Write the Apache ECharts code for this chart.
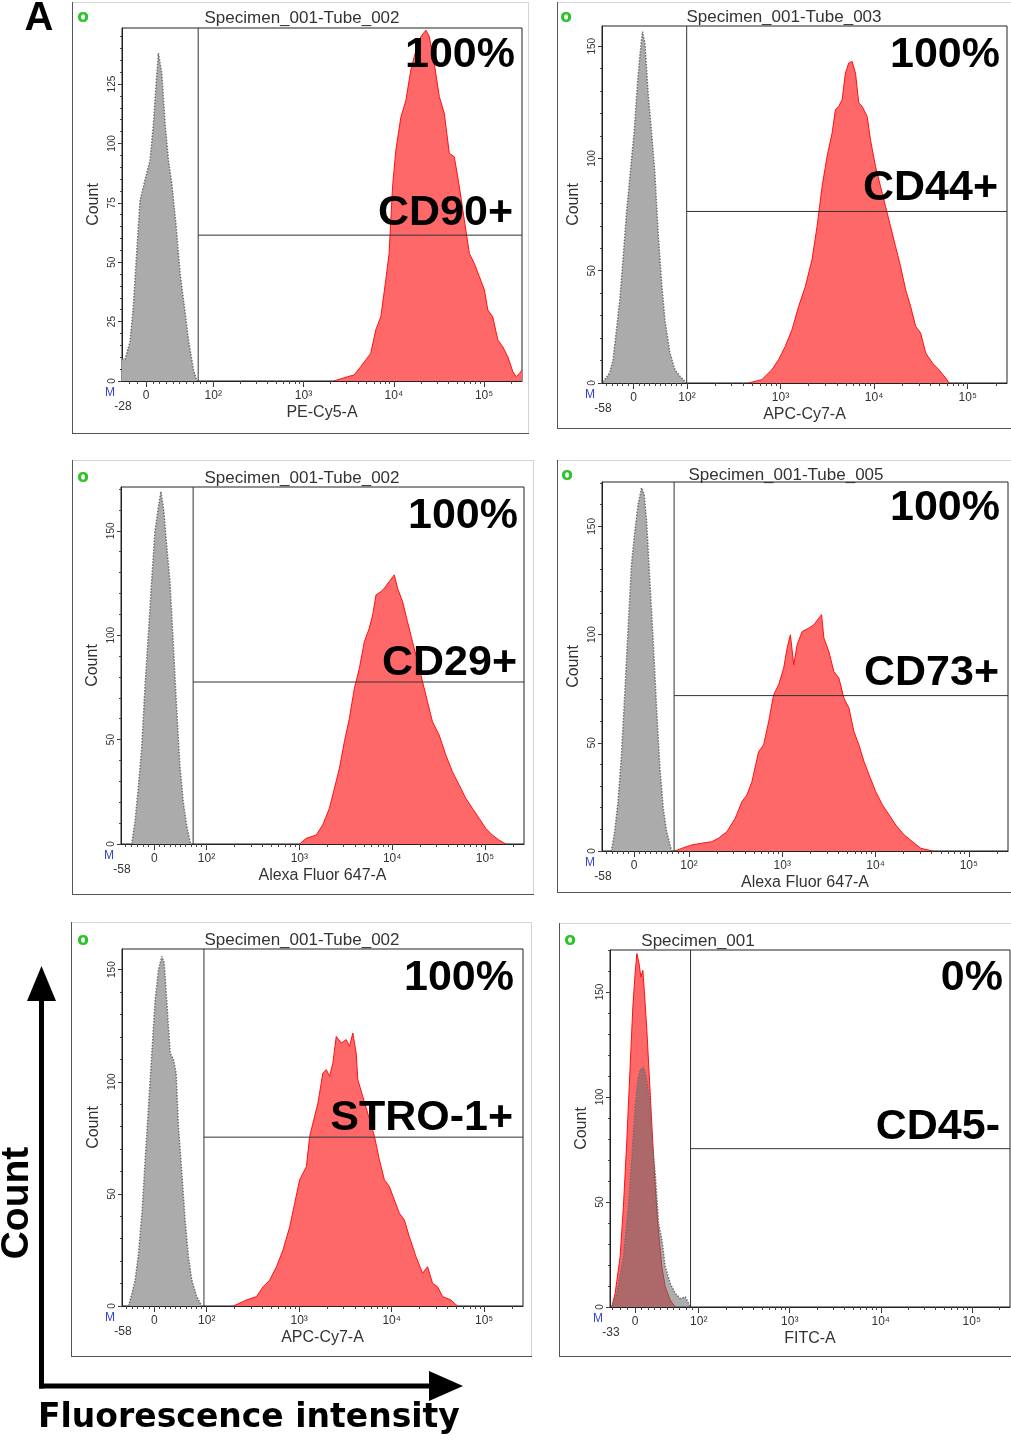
<!DOCTYPE html>
<html><head><meta charset="utf-8">
<script src="https://cdn.jsdelivr.net/npm/echarts@6/dist/echarts.min.js"></script>
<style>html,body{margin:0;padding:0;background:#fff}#c{width:1011px;height:1440px}</style>
</head><body><div id="c"></div>
<script>
// ---------------- DATA ----------------
// x positions are in display decades of the biexponential axis (10^2 -> 2, 10^3 -> 3 ...)
const markers  = ['CD90+', 'CD44+', 'CD29+', 'CD73+', 'STRO-1+', 'CD45-'];
const percents = ['100%', '100%', '100%', '100%', '100%', '0%'];
const tubes    = ['Specimen_001-Tube_002', 'Specimen_001-Tube_003', 'Specimen_001-Tube_002',
                  'Specimen_001-Tube_005', 'Specimen_001-Tube_002', 'Specimen_001'];
const channels = ['PE-Cy5-A', 'APC-Cy7-A', 'Alexa Fluor 647-A', 'Alexa Fluor 647-A', 'APC-Cy7-A', 'FITC-A'];
const minValues = [-28, -58, -58, -58, -58, -33];
const minLabels = ['-28', '-58', '-58', '-58', '-58', '-33'];
const xMins = [0.989, 1.092, 1.079, 1.067, 1.084, 1.025];   // display position of the axis minimum
const zeroPos = [1.256, 1.43, 1.437, 1.41, 1.435, 1.30];   // display position of 0
const X_MAX = 5.42;                                          // 262144
const majorValues = [0, 100, 1000, 10000, 100000];
const majorLabels = ['0', '10²', '10³', '10⁴', '10⁵'];
const yMaxes = [148.6, 159, 171, 170.5, 159.2, 170];
const yIntervals = [25, 50, 50, 50, 50, 50];
const gateX = [1.833, 1.997, 1.856, 1.84, 1.97, 1.91];
const gateY = [61.4, 76.4, 77.6, 71.8, 75.3, 75.4];

// Panel 1: CD90
const cd90CtrlX = [0.989, 1.022, 1.078, 1.114, 1.152, 1.189, 1.244, 1.3, 1.337, 1.367, 1.392, 1.43, 1.467, 1.503, 1.541, 1.589, 1.633, 1.689, 1.726, 1.781, 1.819];
const cd90CtrlY = [9, 9, 16.5, 31, 54, 76, 84.6, 93, 108, 125, 138, 129.5, 108, 93, 83, 65, 45, 28.5, 17, 4.6, 0];
const cd90X = [3.337, 3.486, 3.559, 3.633, 3.744, 3.8, 3.856, 3.911, 3.948, 3.986, 4.022, 4.078, 4.133, 4.189, 4.244, 4.3, 4.356, 4.393, 4.448, 4.504, 4.559, 4.615, 4.67, 4.726, 4.781, 4.837, 4.892, 4.948, 5.004, 5.041, 5.096, 5.152, 5.207, 5.263, 5.319, 5.356, 5.392, 5.42];
const cd90Y = [0, 1.8, 2.5, 6, 11.6, 21.5, 27, 42.5, 53.7, 81.8, 97, 111, 118, 131, 139, 145, 147.7, 145, 133.7, 119.7, 112.7, 95.8, 94.4, 81.8, 67.8, 53.7, 49.5, 43.9, 38.3, 29.9, 27, 17.3, 14.4, 10.2, 3.9, 1.8, 3.2, 4.6];

// Panel 2: CD44
const cd44CtrlX = [1.103, 1.175, 1.21, 1.247, 1.282, 1.317, 1.354, 1.4, 1.435, 1.472, 1.496, 1.525, 1.55, 1.585, 1.622, 1.657, 1.692, 1.729, 1.764, 1.818, 1.871, 1.925, 1.979];
const cd44CtrlY = [0.5, 4.5, 10.4, 23.7, 37, 55, 75.7, 96.4, 111.3, 133.6, 145.4, 156.5, 151.4, 129, 111.3, 93.5, 66.8, 44.5, 28.2, 13.4, 5.9, 3, 0.7];
const cd44X = [2.657, 2.8, 2.907, 2.979, 3.05, 3.122, 3.193, 3.265, 3.336, 3.39, 3.444, 3.497, 3.551, 3.586, 3.622, 3.658, 3.693, 3.729, 3.765, 3.801, 3.836, 3.872, 3.926, 3.961, 4.015, 4.069, 4.122, 4.176, 4.229, 4.283, 4.337, 4.39, 4.444, 4.497, 4.551, 4.623, 4.693, 4.765, 4.801];
const cd44Y = [0, 1.5, 5.9, 10.4, 16.3, 23.7, 34.1, 43, 54.9, 69.7, 87.5, 100.9, 111.3, 121.7, 123.2, 126.1, 138, 142.5, 143.2, 138, 124.7, 123.2, 118.7, 108.3, 96.4, 87.5, 78.6, 69.7, 60.8, 51.9, 41.5, 34.1, 25.2, 22.3, 13.4, 8.9, 5.9, 2.2, 0];

// Panel 3: CD29
const cd29CtrlX = [1.194, 1.23, 1.265, 1.302, 1.337, 1.373, 1.409, 1.445, 1.48, 1.509, 1.541, 1.57, 1.606, 1.641, 1.678, 1.713, 1.749, 1.785, 1.828];
const cd29CtrlY = [0, 10.7, 26.7, 45.9, 74.6, 100.1, 125.7, 149.6, 160.8, 168.8, 159.2, 143.3, 125.7, 96.9, 65, 37.9, 20.3, 9.1, 0];
const cd29X = [3.002, 3.074, 3.182, 3.252, 3.324, 3.378, 3.432, 3.485, 3.539, 3.593, 3.647, 3.7, 3.754, 3.79, 3.826, 3.88, 3.915, 3.969, 4.023, 4.058, 4.112, 4.165, 4.219, 4.273, 4.327, 4.38, 4.434, 4.506, 4.578, 4.649, 4.721, 4.793, 4.864, 4.936, 5.008, 5.078, 5.15, 5.222];
const cd29Y = [0, 2.7, 4.3, 9.1, 17.1, 26.7, 36.3, 49, 60.2, 74.6, 84.2, 96.9, 103.4, 109.7, 119.3, 120.9, 122.5, 125.7, 128.9, 122.5, 116.1, 106.5, 96.9, 87.4, 77.8, 68.2, 58.6, 52.2, 42.6, 34.6, 28.3, 21.9, 17.1, 12.3, 7.5, 4.3, 1.9, 0];

// Panel 4: CD73
const cd73CtrlX = [1.168, 1.203, 1.239, 1.276, 1.311, 1.347, 1.383, 1.419, 1.454, 1.491, 1.519, 1.545, 1.58, 1.616, 1.652, 1.688, 1.723, 1.76, 1.814];
const cd73CtrlY = [0, 8.9, 22.8, 44.4, 72.2, 103, 132.3, 147.7, 160, 167.8, 164.7, 152.3, 124.6, 96.8, 66, 38.3, 19.8, 8.9, 0];
const cd73X = [1.849, 1.921, 2.029, 2.137, 2.244, 2.315, 2.406, 2.495, 2.567, 2.621, 2.675, 2.746, 2.8, 2.854, 2.907, 2.961, 3.015, 3.052, 3.087, 3.123, 3.159, 3.213, 3.284, 3.338, 3.392, 3.421, 3.446, 3.499, 3.553, 3.607, 3.661, 3.715, 3.768, 3.822, 3.876, 3.93, 4.002, 4.074, 4.145, 4.217, 4.307, 4.397, 4.487, 4.613];
const cd73Y = [0, 1.2, 2.8, 3.6, 4.3, 5.9, 8.9, 15.1, 22.8, 25.9, 32.1, 45.9, 49, 59.8, 72.2, 76.8, 84.5, 93.8, 99.9, 86, 95.3, 101.4, 103, 104.5, 107.6, 109.2, 98.4, 92.2, 82.9, 79.9, 70.6, 66, 55.2, 49, 41.3, 35.2, 27.4, 21.3, 16.7, 12, 7.4, 4.3, 1.2, 0];

// Panel 5: STRO-1
const stroCtrlX = [1.155, 1.192, 1.227, 1.263, 1.3, 1.335, 1.371, 1.407, 1.443, 1.479, 1.515, 1.54, 1.569, 1.605, 1.64, 1.669, 1.694, 1.731, 1.766, 1.802, 1.838, 1.892, 1.946];
const stroCtrlY = [0, 5.7, 11.6, 23.5, 41.4, 65.2, 89, 112.8, 136.6, 150, 155.9, 153, 135.1, 112.8, 109.8, 103.9, 80, 59.2, 38.4, 22, 11.6, 4.2, 0];
const stroX = [2.287, 2.431, 2.539, 2.61, 2.682, 2.754, 2.825, 2.898, 2.951, 3.005, 3.078, 3.113, 3.149, 3.203, 3.256, 3.293, 3.329, 3.364, 3.401, 3.455, 3.509, 3.544, 3.58, 3.616, 3.634, 3.688, 3.741, 3.814, 3.867, 3.921, 3.975, 4.029, 4.083, 4.137, 4.191, 4.263, 4.334, 4.388, 4.442, 4.496, 4.55, 4.64, 4.711];
const stroY = [0, 2.7, 4.2, 8.6, 11.6, 17.5, 25, 35.4, 45.8, 56.3, 62.2, 75.6, 81.6, 90.5, 103.9, 105.4, 102.4, 108.3, 120.2, 117.3, 118.8, 115.8, 121.7, 112.8, 100.9, 93.4, 86, 75.6, 65.2, 56.3, 53.3, 47.3, 41.4, 38.4, 30.9, 22, 14.6, 17.5, 10.1, 8.6, 4.2, 2.7, 0];

// Panel 6: CD45
const cd45CtrlX = [1.044, 1.099, 1.172, 1.227, 1.265, 1.301, 1.331, 1.357, 1.393, 1.43, 1.459, 1.486, 1.522, 1.559, 1.596, 1.632, 1.688, 1.743, 1.798, 1.853, 1.89, 1.908];
const cd45CtrlY = [0, 6.4, 23.8, 47.6, 71.4, 95.2, 108, 112.7, 114.3, 108, 98.4, 79.4, 63.5, 39.7, 31.8, 19, 11.1, 6.4, 4, 4.8, 1.6, 0];
const cd45X = [1.044, 1.081, 1.136, 1.172, 1.21, 1.246, 1.276, 1.301, 1.32, 1.345, 1.364, 1.386, 1.404, 1.43, 1.459, 1.486, 1.522, 1.559, 1.596, 1.632, 1.688, 1.743];
const cd45Y = [0, 6.4, 23.8, 47.6, 79.4, 114.3, 142.9, 158.8, 168.3, 163.5, 157.1, 160.3, 149.2, 131.8, 108, 85.7, 57.1, 35, 19, 9.5, 3.2, 0];

const ctrlXs = [cd90CtrlX, cd44CtrlX, cd29CtrlX, cd73CtrlX, stroCtrlX, cd45CtrlX];
const ctrlYs = [cd90CtrlY, cd44CtrlY, cd29CtrlY, cd73CtrlY, stroCtrlY, cd45CtrlY];
const stainXs = [cd90X, cd44X, cd29X, cd73X, stroX, cd45X];
const stainYs = [cd90Y, cd44Y, cd29Y, cd73Y, stroY, cd45Y];

// ---------------- LAYOUT ----------------
const gridRects = [
  [122, 28, 400, 353], [602, 26, 405, 357],
  [121, 487, 403, 357], [602, 482, 406, 369],
  [122, 949, 401, 357], [610, 950, 400, 357]
];
const frames = [
  [72, 2, 457, 431], [557, 2, 470, 426],
  [72, 460, 462, 434], [557, 460, 470, 432],
  [71, 922, 461, 434], [559, 923, 470, 433]
];
const titlePos = [[302, 18], [784, 17], [302, 478], [786, 475], [302, 940], [698, 941]];
const oPos = [[83, 18], [566, 18], [83, 478], [567, 476], [83, 941], [570, 941]];
const pctPos = [[515, 55], [1000, 55], [518, 516], [1000, 508], [514, 978], [1003, 978]];
const markerPos = [[513, 213], [998, 188], [517, 663], [999, 673], [513, 1118], [1000, 1127]];

const SANS = "'Liberation Sans', Arial, 'DejaVu Sans', sans-serif";
const RED_FILL = '#ff6868', RED_LINE = '#ff1010', GRAY_FILL = '#ababab', GRAY_LINE = '#707070';

function toDisp(v, i) {
  if (v >= 100) return Math.log10(v);
  const d0 = zeroPos[i];
  if (v >= 0) return d0 + v / 100 * (2 - d0);
  return d0 + (v / -minValues[i]) * (d0 - xMins[i]);
}
const zip = (xs, ys) => xs.map((x, k) => [x, ys[k]]);

const grid = [], xAxis = [], yAxis = [], series = [];
for (let i = 0; i < 6; i++) {
  const [l, t, w, h] = gridRects[i];
  grid.push({ left: l, top: t, width: w, height: h, show: true, borderColor: '#222', borderWidth: 1, containLabel: false });
  const majorD = majorValues.map(v => toDisp(v, i));
  const minorD = [];
  for (let v = Math.ceil(minValues[i] / 10) * 10; v < 100; v += 10) minorD.push(toDisp(v, i));
  for (let n = 2; n <= 5; n++) for (let k = 1; k <= 9; k++) {
    const d = Math.log10(k * Math.pow(10, n));
    if (d <= X_MAX) minorD.push(d);
  }
  xAxis.push({
    gridIndex: i, type: 'value', min: xMins[i], max: X_MAX, position: 'bottom',
    name: channels[i], nameLocation: 'middle', nameGap: 24,
    nameTextStyle: { fontFamily: SANS, fontSize: 16, color: '#333' },
    axisLine: { show: true, lineStyle: { color: '#222', width: 1 } },
    axisTick: { show: true, customValues: majorD, length: 6, lineStyle: { color: '#333' } },
    axisLabel: { show: true, customValues: majorD, margin: 9, fontFamily: SANS, fontSize: 12, color: '#333',
      formatter: (v) => { const k = majorD.findIndex(d => Math.abs(d - v) < 1e-6); return k >= 0 ? majorLabels[k] : ''; } },
    splitLine: { show: false }
  });
  xAxis.push({
    gridIndex: i, type: 'value', min: xMins[i], max: X_MAX, position: 'bottom',
    axisLine: { show: false },
    axisTick: { show: true, customValues: minorD, length: 3, lineStyle: { color: '#444' } },
    axisLabel: { show: false }, splitLine: { show: false }
  });
  const yMajor = [], yMinor = [];
  for (let v = 0; v <= yMaxes[i]; v += yIntervals[i]) yMajor.push(v);
  for (let v = 0; v <= yMaxes[i]; v += yIntervals[i] / 5) yMinor.push(v);
  yAxis.push({
    gridIndex: i, type: 'value', min: 0, max: yMaxes[i], position: 'left',
    name: 'Count', nameLocation: 'middle', nameGap: 20,
    nameTextStyle: { fontFamily: SANS, fontSize: 16, color: '#333' },
    axisLine: { show: true, lineStyle: { color: '#222', width: 1 } },
    axisTick: { show: true, customValues: yMajor, length: 4, lineStyle: { color: '#333' } },
    axisLabel: { show: true, customValues: yMajor, rotate: 90, margin: 5, fontFamily: SANS, fontSize: 10, color: '#333' },
    splitLine: { show: false }
  });
  yAxis.push({
    gridIndex: i, type: 'value', min: 0, max: yMaxes[i], position: 'left',
    axisLine: { show: false },
    axisTick: { show: true, customValues: yMinor, length: 2, lineStyle: { color: '#444' } },
    axisLabel: { show: false }, splitLine: { show: false }
  });
  const overlay = (i === 5);
  series.push({
    type: 'line', xAxisIndex: 2 * i, yAxisIndex: 2 * i, data: zip(stainXs[i], stainYs[i]),
    showSymbol: false, silent: true, z: overlay ? 2 : 3,
    lineStyle: { color: RED_LINE, width: 1 },
    areaStyle: { color: RED_FILL, opacity: 1 }
  });
  series.push({
    type: 'line', xAxisIndex: 2 * i, yAxisIndex: 2 * i, data: zip(ctrlXs[i], ctrlYs[i]),
    showSymbol: false, silent: true, z: overlay ? 3 : 2,
    lineStyle: { color: GRAY_LINE, width: 1.5, type: 'dotted' },
    areaStyle: overlay ? { color: '#6a6a6a', opacity: 0.55 } : { color: GRAY_FILL, opacity: 1 }
  });
  series.push({
    type: 'line', xAxisIndex: 2 * i, yAxisIndex: 2 * i, data: [[gateX[i], yMaxes[i]], [gateX[i], 0]],
    showSymbol: false, silent: true, z: 6, lineStyle: { color: '#333', width: 1 }
  });
  series.push({
    type: 'line', xAxisIndex: 2 * i, yAxisIndex: 2 * i, data: [[gateX[i], gateY[i]], [X_MAX, gateY[i]]],
    showSymbol: false, silent: true, z: 6, lineStyle: { color: '#333', width: 1 }
  });
}

// ---------------- GRAPHICS (annotations) ----------------
function txt(x, y, text, o) {
  return Object.assign({ type: 'text', x: x, y: y, z: 100, silent: true,
    style: Object.assign({ text: text, x: 0, y: 0, fill: '#333', fontFamily: SANS, fontSize: 12,
      align: 'center', verticalAlign: 'middle', textAlign: 'center', textVerticalAlign: 'middle' }, o.style || {}) },
    o.el || {});
}
function ln(x1, y1, x2, y2, c, w) {
  return { type: 'line', z: 100, silent: true, shape: { x1, y1, x2, y2 }, style: { stroke: c, lineWidth: w || 1 } };
}
const elements = [];
for (let i = 0; i < 6; i++) {
  const [fx, fy, fw, fh] = frames[i];
  elements.push(ln(fx, fy + 0.5, fx + fw, fy + 0.5, '#d4d4d4'));
  elements.push(ln(fx + fw - 0.5, fy, fx + fw - 0.5, fy + fh, '#d4d4d4'));
  elements.push(ln(fx + 0.5, fy, fx + 0.5, fy + fh, '#555'));
  elements.push(ln(fx, fy + fh + 0.5, fx + fw, fy + fh + 0.5, '#555'));
  const [l, t, w, h] = gridRects[i];
  elements.push(txt(oPos[i][0], oPos[i][1], 'o', { style: { fill: '#2bc42b', fontSize: 17, fontWeight: 'bold', fontFamily: "'DejaVu Sans', sans-serif" } }));
  elements.push(txt(titlePos[i][0], titlePos[i][1], tubes[i], { style: { fontSize: 17, fill: '#333' } }));
  elements.push(txt(l - 12, t + h + 12, 'M', { style: { fill: '#3344cc', fontSize: 12 } }));
  elements.push(txt(l + 1, t + h + 26, minLabels[i], { style: { fontSize: 12, fill: '#333' } }));
  elements.push(txt(pctPos[i][0], pctPos[i][1], percents[i],
    { style: { fill: '#000', fontSize: 43, fontWeight: 'bold', align: 'right', textAlign: 'right' } }));
  elements.push(txt(markerPos[i][0], markerPos[i][1], markers[i],
    { style: { fill: '#000', fontSize: 43, fontWeight: 'bold', align: 'right', textAlign: 'right' } }));
}
elements.push(txt(39, 19, 'A', { style: { fill: '#000', fontSize: 40, fontWeight: 'bold' } }));
// axis arrows
elements.push(ln(41.5, 998, 41.5, 1388.5, '#000', 5));
elements.push(ln(39, 1386, 432, 1386, '#000', 5));
elements.push({ type: 'polygon', z: 100, silent: true, shape: { points: [[41.5, 966], [27, 1001], [56, 1001]] }, style: { fill: '#000' } });
elements.push({ type: 'polygon', z: 100, silent: true, shape: { points: [[463, 1386], [429, 1371], [429, 1401]] }, style: { fill: '#000' } });
elements.push(txt(17, 1203, 'Count', { style: { fill: '#000', fontSize: 39, fontWeight: 'bold' }, el: { rotation: Math.PI / 2 } }));
elements.push(txt(38, 1418, 'Fluorescence intensity',
  { style: { fill: '#000', fontSize: 33, fontWeight: 'bold', fontFamily: "'DejaVu Sans', sans-serif", align: 'left', textAlign: 'left' } }));

const chart = echarts.init(document.getElementById('c'), null, { renderer: 'canvas', width: 1011, height: 1440 });
chart.setOption({
  animation: false,
  backgroundColor: '#fff',
  grid, xAxis, yAxis, series,
  graphic: { elements }
});
</script></body></html>
